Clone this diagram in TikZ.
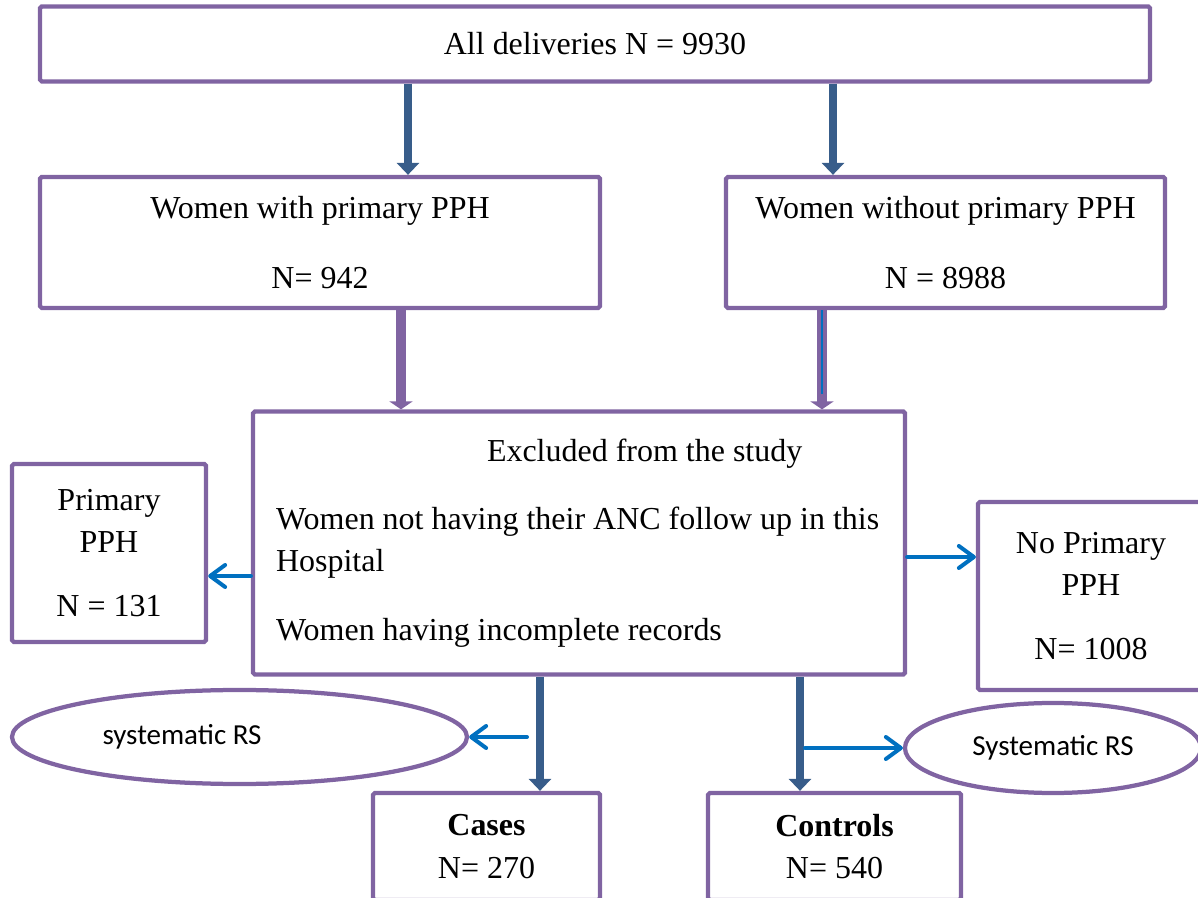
\documentclass[tikz,border=0pt]{standalone}
\usepackage{fontspec}
\setmainfont{Liberation Serif}
\newfontfamily\calibrifont{Carlito}
\usetikzlibrary{positioning,arrows.meta,shapes.geometric}
\definecolor{boxpurple}{HTML}{8064A2}
\definecolor{arrowdark}{HTML}{385D8A}
\definecolor{arrowblue}{HTML}{0070C0}
\newcommand{\pxu}{0.02cm}

\begin{document}
\begin{tikzpicture}[x=0.02cm, y=-0.02cm,
    every node/.style={font=\fontsize{18.2}{24}\selectfont},
    flowbox/.style={rectangle, draw=boxpurple, line width=0.085cm, rounded corners=1pt, inner sep=0pt, align=center},
    rsell/.style={ellipse, draw=boxpurple, line width=0.085cm, inner sep=0pt, font=\calibrifont\fontsize{16.5}{20}\selectfont},
    darr/.style={draw=arrowdark, line width=0.16cm, -{Triangle[width=0.44cm,length=0.24cm]}},
    parr/.style={draw=boxpurple, line width=0.19cm, -{Triangle[width=0.46cm,length=0.16cm]}},
    barr/.style={draw=arrowblue, line width=0.08cm, line cap=round, -{Straight Barb[round,width=0.44cm,length=0.3cm]}}]
    \useasboundingbox (0,0) rectangle (1198,898);
    \clip (0,0) rectangle (1198,898);

    % Boxes
    \node[flowbox, minimum width=1110*\pxu, minimum height=75*\pxu] (all) at (595,44) {All deliveries N = 9930};
    \node[flowbox, minimum width=560*\pxu, minimum height=131*\pxu] (withpph) at (320,242.5) {Women with primary PPH\\[16pt] N= 942};
    \node[flowbox, minimum width=439*\pxu, minimum height=131*\pxu] (withoutpph) at (945.5,242.5) {Women without primary PPH\\[16pt] N = 8988};
    \node[flowbox, minimum width=652*\pxu, minimum height=263*\pxu, align=flush left, text width=12.6cm] (excluded) at (579,543)
        {\hspace*{4.46cm}Excluded from the study\\[15pt]
         \hspace*{0.24cm}Women not having their ANC follow up in this\\
         \hspace*{0.24cm}Hospital\\[15pt]
         \hspace*{0.24cm}Women having incomplete records};
    \node[flowbox, minimum width=194*\pxu, minimum height=178*\pxu] (primary) at (109,553) {Primary\\PPH\\[12pt] N = 131};
    \node[flowbox, minimum width=226*\pxu, minimum height=188*\pxu] (noprimary) at (1091,596) {No Primary\\PPH\\[12pt] N= 1008};
    \node[flowbox, minimum width=227*\pxu, minimum height=107*\pxu] (cases) at (486.5,846.5) {\textbf{Cases}\\N= 270};
    \node[flowbox, minimum width=253*\pxu, minimum height=107*\pxu] (controls) at (834.5,846.5) {\textbf{Controls}\\N= 540};

    % Sampling ellipses
    \node[rsell, minimum width=455*\pxu, minimum height=94*\pxu] (rsleft) at (239.5,737) {systematic RS\hspace*{2.3cm}};
    \node[rsell, minimum width=296*\pxu, minimum height=90*\pxu] (rsright) at (1053,748) {Systematic RS};

    % Where the arrows run
    \coordinate (d1) at (408,0);
    \coordinate (d2) at (833,0);
    \coordinate (p1) at (401,0);
    \coordinate (p2) at (822,0);
    \coordinate (d3) at (540,0);
    \coordinate (d4) at (800,0);
    \coordinate (s1) at (0,576);
    \coordinate (s2) at (0,557);
    \coordinate (s3) at (527,737);
    \coordinate (s4) at (805,748);

    \draw[darr] (d1 |- all.south) -- (d1 |- withpph.north);
    \draw[darr] (d2 |- all.south) -- (d2 |- withoutpph.north);
    \draw[parr] (p1 |- withpph.south) -- (p1 |- excluded.north);
    \draw[parr] (p2 |- withoutpph.south) -- (p2 |- excluded.north);
    \draw[arrowblue, line width=0.6pt, shorten >=0.3cm] (p2 |- withoutpph.south) -- (p2 |- excluded.north);
    \draw[darr] (d3 |- excluded.south) -- (d3 |- cases.north);
    \draw[darr] (d4 |- excluded.south) -- (d4 |- controls.north);

    % Side arrows
    \draw[barr] (s1 -| excluded.west) -- (s1 -| primary.east);
    \draw[barr] (s2 -| excluded.east) -- (s2 -| noprimary.west);
    \draw[barr] (s3) -- (rsleft.east);
    \draw[barr] (s4) -- (rsright.west);
\end{tikzpicture}
\end{document}
